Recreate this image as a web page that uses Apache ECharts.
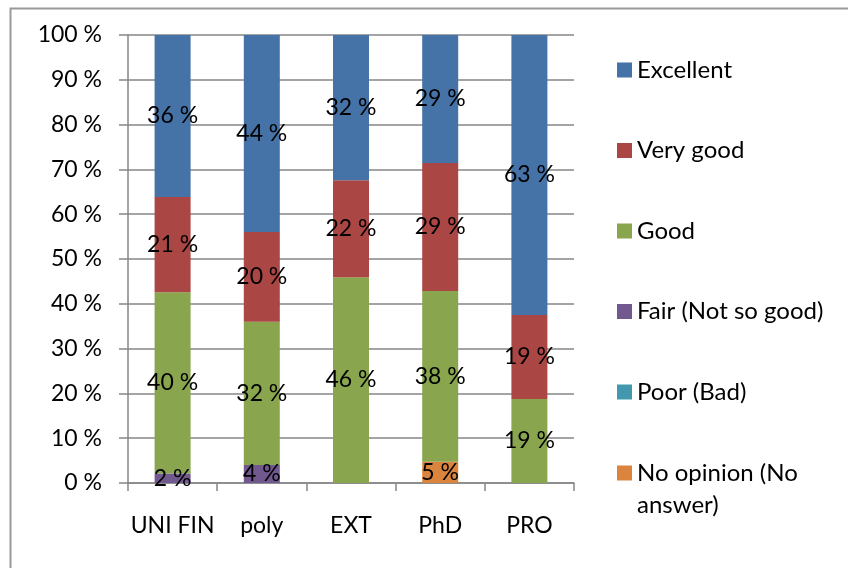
<!DOCTYPE html>
<html>
<head>
<meta charset="utf-8">
<script src="https://cdn.jsdelivr.net/npm/echarts@6/dist/echarts.min.js"></script>
<style>html,body{margin:0;padding:0;background:#fff}#c{width:848px;height:568px}</style>
</head>
<body>
<div id="c"></div>
<script>
const categories = ['UNI FIN', 'poly', 'EXT', 'PhD', 'PRO'];
const seriesNames = ['No opinion (No answer)', 'Poor (Bad)', 'Fair (Not so good)', 'Good', 'Very good', 'Excellent'];
const noOpinion = [0, 0, 0, 4.76, 0];
const poor      = [0, 0, 0, 0, 0];
const fair      = [2.13, 4, 0, 0, 0];
const good      = [40.43, 32, 45.95, 38.1, 18.75];
const veryGood  = [21.28, 20, 21.62, 28.57, 18.75];
const excellent = [36.17, 44, 32.43, 28.57, 62.5];
const yTicks = [0, 10, 20, 30, 40, 50, 60, 70, 80, 90, 100];
const colors = ['#DB843D', '#4198AF', '#71588F', '#89A54E', '#AA4643', '#4572A7'];

const values = [noOpinion, poor, fair, good, veryGood, excellent];
const FONT = 'Lato';
const chart = echarts.init(document.getElementById('c'));
chart.setOption({
  animation: false,
  textStyle: { fontFamily: FONT },
  graphic: [{
    type: 'rect', left: 8, top: 6, z: -10,
    shape: { width: 900, height: 600 },
    style: { fill: 'none', stroke: '#9a9a9a', lineWidth: 2 }
  }],
  grid: { left: 128, right: 274, top: 35, bottom: 85 },
  xAxis: {
    type: 'category', data: categories,
    axisLine: { lineStyle: { color: '#868686', width: 1.5 } },
    axisTick: { show: true, length: 8, lineStyle: { color: '#868686', width: 1.5 } },
    axisLabel: { color: '#000', fontSize: 23, fontFamily: FONT, margin: 31, interval: 0 }
  },
  yAxis: {
    type: 'value', min: yTicks[0], max: yTicks[yTicks.length - 1], interval: 10,
    axisLine: { show: true, lineStyle: { color: '#868686', width: 1.5 } },
    axisTick: { show: true, length: 9, lineStyle: { color: '#868686', width: 1.5 } },
    splitLine: { lineStyle: { color: '#868686', width: 1.5 } },
    axisLabel: { color: '#000', fontSize: 23, fontFamily: FONT, margin: 26, formatter: '{value} %' }
  },
  legend: [{
    orient: 'vertical', left: 617, top: 57, padding: 0,
    data: seriesNames.slice(1).reverse(),
    itemWidth: 15, itemHeight: 15, itemGap: 54.5,
    icon: 'rect',
    textStyle: { color: '#000', fontSize: 24, fontFamily: FONT, lineHeight: 26 }
  }, {
    orient: 'vertical', left: 617, top: 425, padding: 0,
    data: [seriesNames[0]],
    itemWidth: 15, itemHeight: 15,
    icon: 'rect',
    formatter: function () { return '\nNo opinion (No\nanswer)'; },
    textStyle: { color: '#000', fontSize: 24, fontFamily: FONT, lineHeight: 32 }
  }],
  series: seriesNames.map(function (n, i) {
    return {
      name: n, type: 'bar', stack: 'total', barWidth: 36,
      data: values[i],
      itemStyle: { color: colors[i] },
      label: {
        show: true, position: 'inside', color: '#000', fontSize: 23, fontFamily: FONT,
        formatter: function (p) { return p.value > 0 ? Math.round(p.value) + ' %' : ''; }
      }
    };
  })
});
</script>
</body>
</html>
